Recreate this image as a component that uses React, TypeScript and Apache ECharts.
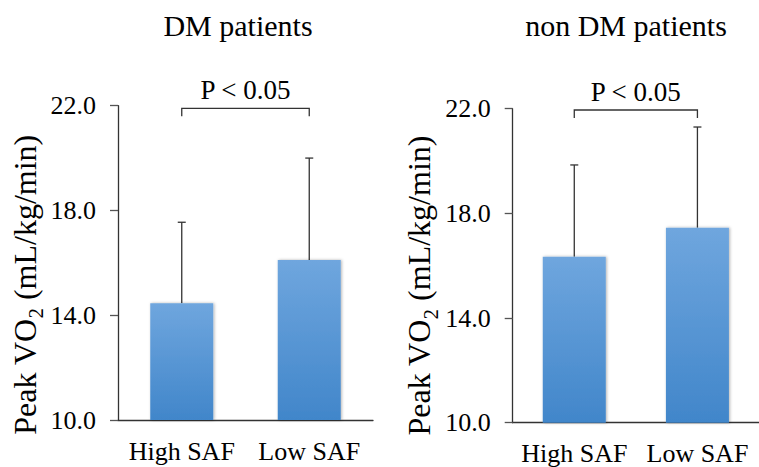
import React, { useEffect, useRef } from "react";
import * as echarts from "echarts";

const categories = ["High SAF", "Low SAF"];
const dmMeans = [14.46, 16.11];
const dmUpper = [17.55, 20.0];
const nonDmMeans = [16.34, 17.45];
const nonDmUpper = [19.85, 21.3];
const panelTitles = ["DM patients", "non DM patients"];
const pLabels = ["P < 0.05", "P < 0.05"];
const bracketLevels = [21.9, 21.95];
const yMin = 10;
const yMax = 22;
const yInterval = 4;

const FONT = "Liberation Serif";

export default function App() {
  const ref = useRef<HTMLDivElement>(null);
  useEffect(() => {
    if (!ref.current) return;
    const chart = echarts.init(ref.current, undefined, { renderer: "svg" });

    const barColor = new echarts.graphic.LinearGradient(0, 0, 0, 1, [
      { offset: 0, color: "#6FA6DE" },
      { offset: 1, color: "#4186CA" },
    ]);

    const errorSeries = (idx: number, means: number[], upper: number[]) => ({
      type: "custom",
      xAxisIndex: idx,
      yAxisIndex: idx,
      z: 1,
      data: means.map((m, i) => [i, m, upper[i]]),
      renderItem: (params: any, api: any) => {
        const x = api.value(0);
        const p0 = api.coord([x, api.value(1)]);
        const p1 = api.coord([x, api.value(2)]);
        const style = { stroke: "#333", lineWidth: 1.3 };
        return {
          type: "group",
          children: [
            { type: "line", shape: { x1: p0[0], y1: p0[1], x2: p1[0], y2: p1[1] }, style },
            { type: "line", shape: { x1: p1[0] - 4, y1: p1[1], x2: p1[0] + 4, y2: p1[1] }, style },
          ],
        };
      },
    });

    const bracketSeries = (idx: number) => ({
      type: "custom",
      xAxisIndex: idx,
      yAxisIndex: idx,
      z: 3,
      data: [[0, 1, bracketLevels[idx]]],
      renderItem: (params: any, api: any) => {
        const a = api.coord([api.value(0), api.value(2)]);
        const b = api.coord([api.value(1), api.value(2)]);
        const style = { stroke: "#333", lineWidth: 1.3, fill: "none" };
        return {
          type: "group",
          children: [
            {
              type: "polyline",
              shape: { points: [[a[0], a[1] + 8], [a[0], a[1]], [b[0], b[1]], [b[0], b[1] + 8]] },
              style,
            },
            {
              type: "text",
              x: (a[0] + b[0]) / 2,
              y: a[1] - 5,
              style: {
                text: pLabels[idx],
                fontSize: 27,
                fontFamily: FONT,
                fill: "#000",
                align: "center",
                verticalAlign: "bottom",
              },
            },
          ],
        };
      },
    });

    const yAxis = (idx: number) => ({
      type: "value",
      gridIndex: idx,
      min: yMin,
      max: yMax,
      interval: yInterval,
      name: "{a|Peak VO}{s|2}{a| (mL/kg/min)}",
      nameLocation: "middle",
      nameRotate: 90,
      nameGap: 73,
      nameTextStyle: {
        fontFamily: FONT,
        padding: [0, idx === 0 ? 44 : 40, 0, 0],
        rich: {
          a: { fontSize: 32, fontFamily: FONT, color: "#000" },
          s: { fontSize: 21, fontFamily: FONT, color: "#000", verticalAlign: "bottom", padding: [0, 0, -6, 0] },
        },
      },
      axisLine: { show: true, lineStyle: { color: "#333", width: 1.3 } },
      axisTick: { show: true, length: 8, lineStyle: { color: "#555", width: 1.3 } },
      splitLine: { show: false },
      axisLabel: {
        fontSize: 26,
        fontFamily: FONT,
        color: "#000",
        margin: 22,
        formatter: (v: number) => v.toFixed(1),
      },
    });

    const xAxis = (idx: number) => ({
      type: "category",
      gridIndex: idx,
      data: categories,
      axisLine: { show: true, lineStyle: { color: "#333", width: 1.3 } },
      axisTick: { show: false },
      axisLabel: { fontSize: 26, fontFamily: FONT, color: "#000", margin: 18, interval: 0 },
    });

    const barSeries = (idx: number, values: number[]) => ({
      type: "bar",
      xAxisIndex: idx,
      yAxisIndex: idx,
      barWidth: 63,
      z: 2,
      data: values,
      itemStyle: {
        color: barColor,
        shadowBlur: 3,
        shadowColor: "rgba(0,0,0,0.3)",
        shadowOffsetX: 1,
        shadowOffsetY: 0,
      },
    });

    const titleStyle = { fontSize: 30, fontFamily: FONT, fontWeight: "normal", color: "#000" };

    chart.setOption({
      animation: false,
      textStyle: { fontFamily: FONT },
      title: [
        { text: panelTitles[0], left: 238, top: 10, textAlign: "center", padding: 0, textStyle: titleStyle },
        { text: panelTitles[1], left: 626, top: 10, textAlign: "center", padding: 0, textStyle: titleStyle },
      ],
      grid: [
        { left: 118, top: 105.7, width: 255, height: 314.3 },
        { left: 512.7, top: 108.7, width: 255, height: 314 },
      ],
      xAxis: [xAxis(0), xAxis(1)],
      yAxis: [yAxis(0), yAxis(1)],
      series: [
        errorSeries(0, dmMeans, dmUpper),
        barSeries(0, dmMeans),
        bracketSeries(0),
        errorSeries(1, nonDmMeans, nonDmUpper),
        barSeries(1, nonDmMeans),
        bracketSeries(1),
      ],
    });
    return () => chart.dispose();
  }, []);
  return (
    <div
      ref={ref}
      style={{ position: "fixed", left: 0, top: 0, width: 759, height: 467, background: "#fff" }}
    />
  );
}
